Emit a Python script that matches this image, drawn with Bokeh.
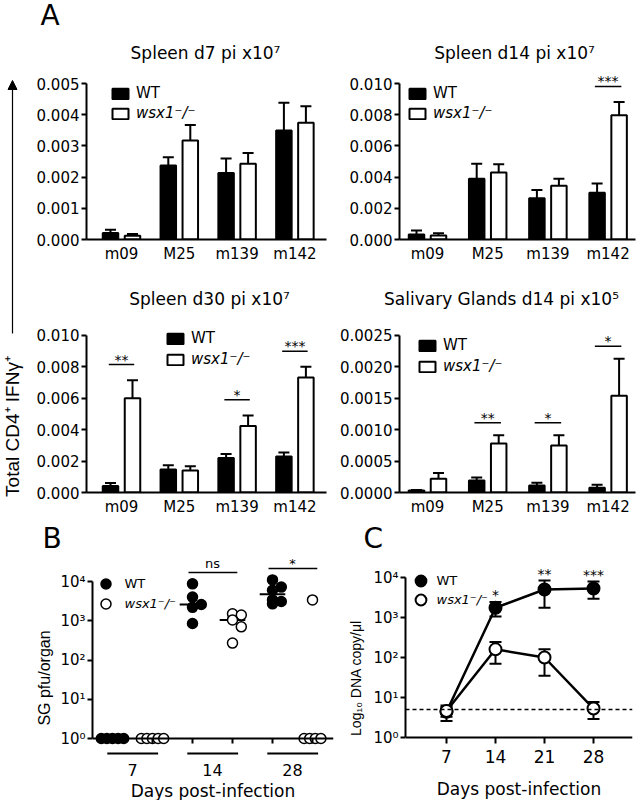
import numpy as np
from bokeh.plotting import figure
from bokeh.layouts import row, column
from bokeh.models import (Range1d, FixedTicker, NumeralTickFormatter, Legend, LegendItem,
                          LabelSet, ColumnDataSource, Arrow, NormalHead, Span)
from bokeh.core.properties import value
from bokeh.embed import file_html
from bokeh.resources import INLINE

FONT = "DejaVu Sans"
VFONT = "Liberation Sans"

# ---------------- data ----------------
antigens = ["m09", "M25", "m139", "m142"]
wt_label = "WT"
ko_label = "wsx1⁻/⁻"

d7_title = "Spleen d7 pi x10⁷"
d7_wt = [0.00021, 0.00237, 0.00213, 0.00349]
d7_wt_err = [0.00010, 0.00027, 0.00047, 0.00089]
d7_ko = [0.00012, 0.00317, 0.00243, 0.00374]
d7_ko_err = [0.00006, 0.00050, 0.00034, 0.00053]
d7_sig = {}

d14_title = "Spleen d14 pi x10⁷"
d14_wt = [0.00032, 0.00390, 0.00265, 0.00300]
d14_wt_err = [0.00025, 0.00096, 0.00053, 0.00059]
d14_ko = [0.00025, 0.00429, 0.00344, 0.00796]
d14_ko_err = [0.00015, 0.00053, 0.00046, 0.00085]
d14_sig = {"m142": "***"}

d30_title = "Spleen d30 pi x10⁷"
d30_wt = [0.00042, 0.00146, 0.00220, 0.00230]
d30_wt_err = [0.00018, 0.00027, 0.00025, 0.00025]
d30_ko = [0.00600, 0.00140, 0.00424, 0.00732]
d30_ko_err = [0.00115, 0.00027, 0.00066, 0.00068]
d30_sig = {"m09": "**", "m139": "*", "m142": "***"}

sg_title = "Salivary Glands d14 pi x10⁵"
sg_wt = [0.00003, 0.00019, 0.00011, 0.000075]
sg_wt_err = [0.00001, 0.00005, 0.000045, 0.00005]
sg_ko = [0.00022, 0.00078, 0.00075, 0.00154]
sg_ko_err = [0.00009, 0.00013, 0.00016, 0.00059]
sg_sig = {"M25": "**", "m139": "*", "m142": "*"}

b_days = ["7", "14", "28"]
b_wt_vals = [[1, 1, 1, 1, 1], [8700, 4000, 2600, 2200, 850], [11000, 7200, 6000, 3400, 3100, 2700]]
b_ko_vals = [[1, 1, 1, 1, 1], [1500, 1400, 1050, 700, 270], [3400, 1, 1, 1, 1]]
b_sig = ["", "ns", "*"]
log_tick_vals = [1, 10, 100, 1000, 10000]
log_tick_labels = ["10⁰", "10¹", "10²", "10³", "10⁴"]

c_days = [7, 14, 21, 28]
c_wt = [4.4, 1750, 5000, 5300]
c_wt_lo = [3.3, 1060, 1750, 2950]
c_wt_hi = [5.8, 2450, 8400, 7900]
c_ko = [4.6, 160, 100, 5.3]
c_ko_lo = [2.6, 70, 35, 2.9]
c_ko_hi = [6.3, 245, 160, 7.7]
c_sig = ["", "*", "**", "***"]
c_detection_limit = 5

panel_letters = ["A", "B", "C"]
left_label = "Total CD4⁺ IFNγ⁺"
days_label = "Days post-infection"
b_ylabel = "SG pfu/organ"
c_ylabel = "Log₁₀ DNA copy/μl"


# ---------------- helpers ----------------
def style_fig(p):
    p.xgrid.visible = False
    p.ygrid.visible = False
    p.outline_line_color = None
    p.background_fill_color = "white"
    p.border_fill_color = "white"


def band(width, height):
    p = figure(width=width, height=height, x_range=Range1d(0, width), y_range=Range1d(0, height),
               output_backend="svg", toolbar_location=None, min_border=0,
               x_axis_location=None, y_axis_location=None)
    style_fig(p)
    return p


def band_text(p, x, y, text, size, align="center", font=FONT, angle=0.0):
    p.text(x=[x], y=[y], text=[text], angle=angle, text_align=align, text_baseline="middle",
           text_font=value(font), text_font_size=value(size), text_color="black")


def style_axes(p, size="15px"):
    for ax in p.axis:
        ax.axis_line_width = 2
        ax.axis_line_color = "black"
        ax.major_tick_line_width = 2
        ax.major_tick_line_color = "black"
        ax.major_tick_in = 0
        ax.major_tick_out = 5
        ax.minor_tick_line_color = None
        ax.major_label_text_font = FONT
        ax.major_label_text_font_size = size
        ax.major_label_text_color = "black"
        ax.axis_label_text_font = FONT
        ax.axis_label_text_font_style = "normal"
        ax.axis_label_text_color = "black"


def add_legend(p, label, renderer, x, y, italic, size, gw, gh, standoff):
    leg = Legend(items=[LegendItem(label=label, renderers=[renderer])], location=(x, y),
                 orientation="vertical", padding=0, margin=0, spacing=0,
                 glyph_width=gw, glyph_height=gh, label_height=gh, label_standoff=standoff,
                 border_line_color=None, background_fill_alpha=0,
                 label_text_font=FONT, label_text_font_size=size,
                 label_text_font_style="italic" if italic else "normal", label_text_color="black")
    p.add_layout(leg)


def bar_panel(cfg, wt, wt_err, ko, ko_err, sig, ymax, ystep, fmt):
    wt = np.asarray(wt); wt_err = np.asarray(wt_err)
    ko = np.asarray(ko); ko_err = np.asarray(ko_err)
    xs = np.arange(len(antigens), dtype=float)
    sp = cfg["spacing"]
    fw = cfg["width"] - cfg["mbl"] - cfg["mbr"]
    fh = cfg["height"] - cfg["mbt"] - cfg["mbb"]
    x0 = -cfg["first"] / sp
    x1 = x0 + fw / sp
    y1 = ymax * fh / cfg["axis_px"]
    p = figure(width=cfg["width"], height=cfg["height"], x_range=Range1d(x0, x1),
               y_range=Range1d(0, y1), output_backend="svg", toolbar_location=None,
               min_border_left=cfg["mbl"], min_border_right=cfg["mbr"],
               min_border_top=cfg["mbt"], min_border_bottom=cfg["mbb"])
    style_fig(p)

    dx = 11.0 / sp
    bw = 15.5 / sp
    src_wt = ColumnDataSource(dict(x=xs - dx, top=wt, cap=wt + wt_err))
    src_ko = ColumnDataSource(dict(x=xs + dx, top=ko, cap=ko + ko_err))
    r_wt = p.vbar(x="x", top="top", bottom=0, width=bw, source=src_wt,
                  fill_color="black", line_color="black", line_width=2)
    r_ko = p.vbar(x="x", top="top", bottom=0, width=bw, source=src_ko,
                  fill_color="white", line_color="black", line_width=2)
    for src in (src_wt, src_ko):
        p.segment(x0="x", y0="top", x1="x", y1="cap", source=src, line_color="black", line_width=2)
        p.scatter(x="x", y="cap", source=src, marker="dash", size=11, line_color="black", line_width=2)

    sx, sy, st = [], [], []
    for name, txt in sig.items():
        i = antigens.index(name)
        sx.append(float(i))
        sy.append(max(wt[i] + wt_err[i], ko[i] + ko_err[i]) + cfg["sigpad"] * ymax)
        st.append(txt)
    if sx:
        ssrc = ColumnDataSource(dict(x=sx, y=sy, x0=[v - 0.22 for v in sx],
                                     x1=[v + 0.22 for v in sx], text=st))
        p.segment(x0="x0", y0="y", x1="x1", y1="y", source=ssrc, line_color="black", line_width=1.5)
        p.add_layout(LabelSet(x="x", y="y", text="text", source=ssrc, y_offset=0,
                              text_align="center", text_baseline="alphabetic",
                              text_font=value(FONT), text_font_size=value("14px"),
                              text_color="black"))

    style_axes(p)
    ticks = [round(float(t), 6) for t in np.arange(0, ymax + ystep / 2, ystep)]
    p.yaxis.ticker = FixedTicker(ticks=ticks)
    p.yaxis.formatter = NumeralTickFormatter(format=fmt)
    p.yaxis.bounds = (0, ymax)
    p.yaxis.major_label_standoff = 2
    p.xaxis.ticker = FixedTicker(ticks=list(xs))
    p.xaxis.major_label_overrides = {int(i): a for i, a in enumerate(antigens)}
    p.xaxis.major_tick_out = 0
    p.xaxis.major_label_standoff = 5

    add_legend(p, wt_label, r_wt, cfg["lx"], cfg["ly"][0], False, "15px", 20, 13, 6)
    add_legend(p, ko_label, r_ko, cfg["lx"], cfg["ly"][1], True, "15px", 20, 13, 6)
    return p


# page rows: 0-70 band, 70-270 upper A row, 270-320 band, 320-518 lower A row,
#            518-555 band, 555-800 panels B and C
cfg_a1 = dict(width=300, height=200, mbl=56, mbr=4, mbt=2, mbb=31, axis_px=156,
              spacing=57.8, first=35, lx=24, ly=(137, 117), sigpad=0.1)
cfg_a2 = dict(width=311, height=200, mbl=69, mbr=6, mbt=2, mbb=31, axis_px=156,
              spacing=60.2, first=28, lx=8, ly=(137, 117), sigpad=0.1)
cfg_a3 = dict(width=300, height=198, mbl=56, mbr=4, mbt=9, mbb=25, axis_px=158,
              spacing=57.8, first=35, lx=79, ly=(145, 124), sigpad=0.1)
cfg_a4 = dict(width=311, height=198, mbl=69, mbr=6, mbt=9, mbb=25, axis_px=158,
              spacing=60.2, first=28, lx=18, ly=(138, 117), sigpad=0.08)

pa1 = bar_panel(cfg_a1, d7_wt, d7_wt_err, d7_ko, d7_ko_err, d7_sig, 0.005, 0.001, "0.000")
pa2 = bar_panel(cfg_a2, d14_wt, d14_wt_err, d14_ko, d14_ko_err, d14_sig, 0.010, 0.002, "0.000")
pa3 = bar_panel(cfg_a3, d30_wt, d30_wt_err, d30_ko, d30_ko_err, d30_sig, 0.010, 0.002, "0.000")
pa4 = bar_panel(cfg_a4, sg_wt, sg_wt_err, sg_ko, sg_ko_err, sg_sig, 0.0025, 0.0005, "0.0000")

# top band: letter A and the two upper titles
band1 = band(641, 70)
band_text(band1, 40, 55, panel_letters[0], "28px", align="left")
band_text(band1, 205, 18, d7_title, "17px")
band_text(band1, 514, 18, d14_title, "17px")

# middle band: lower titles
band2 = band(611, 50)
band_text(band2, 179, 22, d30_title, "17px")
band_text(band2, 471, 22, sg_title, "17px")

# left label with arrow
pl = band(30, 448)
band_text(pl, 12, 92, left_label, "19px", font=VFONT, angle=np.pi / 2)
pl.add_layout(Arrow(end=NormalHead(size=9, fill_color="black", line_color="black"),
                    x_start=12.0, y_start=185.0, x_end=12.0, y_end=438.0,
                    line_color="black", line_width=1.2))

# band with letters B and C
band3 = band(641, 37)
band_text(band3, 42, 17, panel_letters[1], "28px", align="left")
band_text(band3, 363, 17, panel_letters[2], "28px", align="left")


# ---------------- panel B ----------------
def swarm_offsets(vals, step=0.14, shift=0.22):
    vals = np.asarray(vals, float)
    offs = np.zeros(len(vals))
    for v in np.unique(vals):
        idx = np.where(vals == v)[0]
        if len(idx) > 1:
            offs[idx] = (np.arange(len(idx)) - (len(idx) - 1) / 2) * step
    logs = np.log10(vals)
    for i in range(len(vals)):
        for j in range(i):
            if vals[i] != vals[j] and abs(logs[i] - logs[j]) < 0.2 and offs[i] == offs[j]:
                offs[i] = offs[j] + (shift if offs[j] <= 0 else -shift)
    return offs


ppu_b = 40.0      # px per column
ppd_b = 39.25     # px per decade
b_w, b_h = 340, 245
b_fw = b_w - 92 - 7
b_y_top = 4 + 26 / ppd_b
b_y_bot = b_y_top - b_h / ppd_b
pb = figure(width=b_w, height=b_h, x_range=Range1d(0.5, 0.5 + b_fw / ppu_b),
            y_range=Range1d(10 ** b_y_bot, 10 ** b_y_top), y_axis_type="log",
            output_backend="svg", toolbar_location=None,
            min_border_left=92, min_border_right=7, min_border_top=0, min_border_bottom=0)
style_fig(pb)

wx, wy, kx, ky = [], [], [], []
med_x0, med_x1, med_y = [], [], []
sig_x, sig_y, sig_x0, sig_x1, sig_t, sig_off = [], [], [], [], [], []
under_x0, under_x1, centers = [], [], []
for g, day in enumerate(b_days):
    cw, ck = 2 * g + 1, 2 * g + 2
    centers.append(cw + 0.5)
    for col, vals, xl, yl in ((cw, b_wt_vals[g], wx, wy), (ck, b_ko_vals[g], kx, ky)):
        offs = swarm_offsets(vals)
        xl.extend(list(col + offs))
        yl.extend(list(vals))
        med = float(np.median(vals))
        med_x0.append(col - 0.32); med_x1.append(col + 0.32); med_y.append(med)
    under_x0.append(cw - 0.13); under_x1.append(ck + 0.14)
    if b_sig[g]:
        top = max(max(b_wt_vals[g]), max(b_ko_vals[g]))
        sig_x.append(cw + 0.5); sig_x0.append(cw - 0.1); sig_x1.append(ck + 0.12)
        sig_y.append(top * 10 ** 0.29); sig_t.append(b_sig[g])
        sig_off.append(5 if b_sig[g] == "ns" else 1)

pb.segment(x0=med_x0, y0=med_y, x1=med_x1, y1=med_y, line_color="black", line_width=2)
r_bw = pb.scatter(wx, wy, size=10, marker="circle", fill_color="black", line_color="black", line_width=1.5)
r_bk = pb.scatter(kx, ky, size=10, marker="circle", fill_color="white", line_color="black", line_width=1.5)
uy = 10 ** (-15 / ppd_b)
pb.segment(x0=under_x0, y0=[uy] * len(b_days), x1=under_x1, y1=[uy] * len(b_days),
           line_color="black", line_width=2)
bsig = ColumnDataSource(dict(x=sig_x, y=sig_y, x0=sig_x0, x1=sig_x1, text=sig_t, off=sig_off))
pb.segment(x0="x0", y0="y", x1="x1", y1="y", source=bsig, line_color="black", line_width=1.5)
pb.add_layout(LabelSet(x="x", y="y", text="text", source=bsig, y_offset="off",
                       text_align="center", text_baseline="alphabetic",
                       text_font=value(FONT), text_font_size=value("13px"), text_color="black"))

style_axes(pb)
pb.yaxis.ticker = FixedTicker(ticks=log_tick_vals)
pb.yaxis.major_label_overrides = dict(zip(log_tick_vals, log_tick_labels))
pb.yaxis.bounds = (log_tick_vals[0], log_tick_vals[-1])
pb.yaxis.axis_label = b_ylabel
pb.yaxis.axis_label_text_font = VFONT
pb.yaxis.axis_label_text_font_size = "16px"
pb.yaxis.axis_label_standoff = 4
pb.yaxis.major_label_standoff = 2
pb.xaxis.fixed_location = 1
pb.xaxis.ticker = FixedTicker(ticks=centers,
                              minor_ticks=[c for g in range(len(b_days)) for c in (2 * g + 1, 2 * g + 2)])
pb.xaxis.major_label_overrides = {c: d for c, d in zip(centers, b_days)}
pb.xaxis.major_label_text_font_size = "16px"
pb.xaxis.major_label_standoff = 20
pb.xaxis.major_tick_out = 0
pb.xaxis.minor_tick_line_color = "black"
pb.xaxis.minor_tick_line_width = 2
pb.xaxis.minor_tick_out = 5
pb.xaxis.minor_tick_in = 0
pb.xaxis.axis_label = days_label
pb.xaxis.axis_label_text_font_size = "17px"
pb.xaxis.axis_label_standoff = 2

add_legend(pb, wt_label, r_bw, 0.5, 204, False, "13px", 25, 25, 7)
add_legend(pb, ko_label, r_bk, 0.5, 184, True, "13px", 25, 25, 7)

# ---------------- panel C ----------------
ppd_day = 7.0
ppd_c = 40.0
c_w, c_h = 301, 245
c_fw = c_w - 65 - 9
c_x0 = 7 - 41 / ppd_day
c_y_top = 4 + 22 / ppd_c
c_y_bot = c_y_top - c_h / ppd_c
pc = figure(width=c_w, height=c_h, x_range=Range1d(c_x0, c_x0 + c_fw / ppd_day),
            y_range=Range1d(10 ** c_y_bot, 10 ** c_y_top), y_axis_type="log",
            output_backend="svg", toolbar_location=None,
            min_border_left=65, min_border_right=9, min_border_top=0, min_border_bottom=0)
style_fig(pc)
pc.add_layout(Span(location=c_detection_limit, dimension="width", line_color="black",
                   line_width=1.5, line_dash="4 3"))
pc.line(c_days, c_wt, line_color="black", line_width=2.5)
pc.line(c_days, c_ko, line_color="black", line_width=2.5)
for lo, hi in ((c_wt_lo, c_wt_hi), (c_ko_lo, c_ko_hi)):
    pc.segment(x0=c_days, y0=lo, x1=c_days, y1=hi, line_color="black", line_width=2)
    pc.scatter(c_days, lo, marker="dash", size=12, line_color="black", line_width=2)
    pc.scatter(c_days, hi, marker="dash", size=12, line_color="black", line_width=2)
r_cw = pc.scatter(c_days, c_wt, size=12, marker="circle", fill_color="black", line_color="black", line_width=2)
r_ck = pc.scatter(c_days, c_ko, size=12, marker="circle", fill_color="white", line_color="black", line_width=2)
csig = ColumnDataSource(dict(x=c_days, y=c_wt_hi, text=c_sig))
pc.add_layout(LabelSet(x="x", y="y", text="text", source=csig, y_offset=2,
                       text_align="center", text_baseline="alphabetic",
                       text_font=value(FONT), text_font_size=value("14px"), text_color="black"))

style_axes(pc)
pc.yaxis.ticker = FixedTicker(ticks=log_tick_vals)
pc.yaxis.major_label_overrides = dict(zip(log_tick_vals, log_tick_labels))
pc.yaxis.bounds = (log_tick_vals[0], log_tick_vals[-1])
pc.yaxis.axis_label = c_ylabel
pc.yaxis.axis_label_text_font = VFONT
pc.yaxis.axis_label_text_font_size = "14px"
pc.yaxis.axis_label_standoff = 6
pc.yaxis.major_label_standoff = 2
pc.xaxis.fixed_location = 1
pc.xaxis.ticker = FixedTicker(ticks=c_days)
pc.xaxis.major_tick_out = 6
pc.xaxis.major_label_standoff = 6
pc.xaxis.major_label_text_font_size = "17px"
pc.xaxis.axis_label = days_label
pc.xaxis.axis_label_text_font_size = "17px"
pc.xaxis.axis_label_standoff = 13

add_legend(pc, wt_label, r_cw, 1.5, 206, False, "13px", 27, 27, 3)
add_legend(pc, ko_label, r_ck, 1.5, 187, True, "13px", 27, 27, 3)

# ---------------- layout ----------------
right_block = column(row(pa1, pa2, spacing=0), band2, row(pa3, pa4, spacing=0), spacing=0)
middle = row(pl, right_block, spacing=0)
bottom = row(pb, pc, spacing=0)
layout = column(band1, middle, band3, bottom, spacing=0)

open("out.html", "w").write(file_html(layout, INLINE))
